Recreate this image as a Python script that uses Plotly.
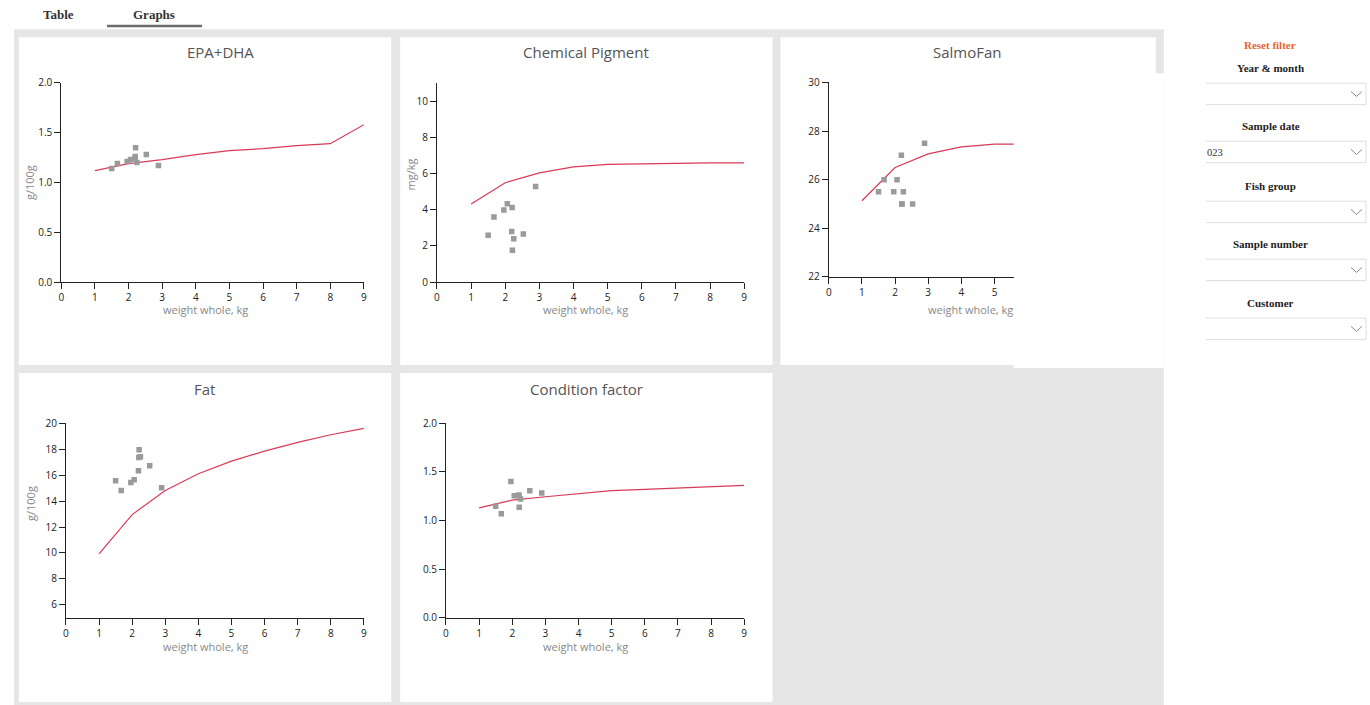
import plotly.graph_objects as go

# ---------------- data ----------------
WEIGHT_CURVE = [1, 2, 3, 4, 5, 6, 7, 8, 9]
FISH_WEIGHT = [1.50, 1.67, 1.96, 2.06, 2.19, 2.20, 2.21, 2.25, 2.53, 2.89]

EPA_DHA_CURVE = [1.12, 1.19, 1.23, 1.28, 1.32, 1.34, 1.37, 1.39, 1.58]
EPA_DHA_FISH = [1.14, 1.19, 1.21, 1.23, 1.24, 1.26, 1.35, 1.20, 1.28, 1.17]

PIGMENT_CURVE = [4.32, 5.50, 6.05, 6.38, 6.52, 6.56, 6.60, 6.60, 6.60]
PIGMENT_FISH = [2.60, 3.60, 3.99, 4.34, 2.80, 4.13, 1.77, 2.40, 2.66, 5.30]

SALMOFAN_CURVE = [25.13, 26.50, 27.06, 27.35, 27.46, 27.50, 27.50, 27.50, 27.50]
SALMOFAN_FISH = [25.5, 26.0, 25.5, 26.0, 27.0, 25.0, 25.0, 25.5, 25.0, 27.5]

FAT_CURVE = [9.92, 12.96, 14.82, 16.11, 17.09, 17.86, 18.53, 19.12, 19.61]
FAT_FISH = [15.57, 14.82, 15.44, 15.64, 16.34, 17.37, 17.96, 17.42, 16.73, 15.03]

CF_CURVE = [1.13, 1.21, 1.245, 1.273, 1.307, 1.321, 1.334, 1.345, 1.362]
CF_FISH = [1.146, 1.070, 1.403, 1.256, 1.256, 1.262, 1.136, 1.221, 1.307, 1.283]

TITLES = ["EPA+DHA", "Chemical Pigment", "SalmoFan", "Fat", "Condition factor"]
X_TITLE = "weight whole, kg"
Y_TITLES = ["g/100g", "mg/kg", "", "g/100g", ""]
TABS = ["Table", "Graphs"]
FILTERS = ["Year & month", "Sample date", "Fish group", "Sample number", "Customer"]
RESET_LABEL = "Reset filter"
SAMPLE_DATE_TEXT = "023"

# ---------------- geometry helpers ----------------
# Positions below are measured on the reference picture; they are mapped to
# figure pixels with a small correction for how the page gets photographed.
W, H = 1370, 705
TX_OFF, TX_SCALE = 3.1, 0.9948
TY_OFF, TY_SCALE = 7.8, 0.979


def px(x):
    return ((x - TX_OFF) / TX_SCALE) / W


def py(y):
    return 1 - ((y - TY_OFF) / TY_SCALE) / H


LINE_COLOR = "#d93a55"
DOT_COLOR = "#9a9a9a"
AX_COLOR = "#222222"
FONT = "Open Sans, Noto Sans, sans-serif"
SERIF = "Liberation Serif, Times New Roman, serif"

fig = go.Figure()

panels = [
    dict(xd=(61.3, 363.7), yd=(82.7, 282.0), xr=[0, 9], yr=[0, 2.0],
         yt=dict(tick0=0, dtick=0.5, tickformat=".1f"),
         curve=EPA_DHA_CURVE, fish=EPA_DHA_FISH),
    dict(xd=(436.7, 743.7), yd=(82.7, 282.0), xr=[0, 9], yr=[0, 11.03],
         yt=dict(tick0=0, dtick=2),
         curve=PIGMENT_CURVE, fish=PIGMENT_FISH),
    dict(xd=(828.2, 1013.0), yd=(82.3, 276.7), xr=[0, 5.58], yr=[22, 30],
         yt=dict(tick0=22, dtick=2),
         curve=SALMOFAN_CURVE, fish=SALMOFAN_FISH),
    dict(xd=(66.0, 363.7), yd=(423.3, 617.7), xr=[0, 9], yr=[5, 20],
         yt=dict(tickmode="array", tickvals=[6, 8, 10, 12, 14, 16, 18, 20]),
         curve=FAT_CURVE, fish=FAT_FISH),
    dict(xd=(445.7, 743.7), yd=(423.3, 617.7), xr=[0, 9], yr=[0, 2.0],
         yt=dict(tick0=0, dtick=0.5, tickformat=".1f"),
         curve=CF_CURVE, fish=CF_FISH),
]

axis_common = dict(
    showgrid=False, zeroline=False, showline=True, linecolor=AX_COLOR, linewidth=1,
    ticks="outside", ticklen=6, tickwidth=1, tickcolor=AX_COLOR,
    tickfont=dict(family=FONT, size=10, color=AX_COLOR), fixedrange=True,
)

layout_axes = {}
for i, p in enumerate(panels):
    n = "" if i == 0 else str(i + 1)
    xa = "x" + n
    ya = "y" + n
    fig.add_trace(go.Scatter(
        x=WEIGHT_CURVE, y=p["curve"], mode="lines",
        line=dict(color=LINE_COLOR, width=1.2),
        xaxis=xa, yaxis=ya, showlegend=False, hoverinfo="skip"))
    fig.add_trace(go.Scatter(
        x=FISH_WEIGHT, y=p["fish"], mode="markers",
        marker=dict(symbol="square", size=5.5, color=DOT_COLOR),
        xaxis=xa, yaxis=ya, showlegend=False))
    layout_axes["xaxis" + n] = dict(
        axis_common, domain=[px(p["xd"][0]), px(p["xd"][1])], range=p["xr"],
        tick0=0, dtick=1, anchor=ya)
    layout_axes["yaxis" + n] = dict(
        axis_common, domain=[py(p["yd"][1]), py(p["yd"][0])], range=p["yr"],
        anchor=xa, **p["yt"])

fig.update_layout(**layout_axes)

# ---------------- background blocks ----------------
GRAY = "#e6e6e6"
shapes = []


def rect(x0, y0, x1, y1, fill, layer="below"):
    shapes.append(dict(type="rect", xref="paper", yref="paper",
                       x0=px(x0), x1=px(x1), y0=py(y1), y1=py(y0),
                       fillcolor=fill, line=dict(width=0), layer=layer))


def hline(x0, x1, y, color, width=1, layer="below"):
    shapes.append(dict(type="line", xref="paper", yref="paper",
                       x0=px(x0), x1=px(x1), y0=py(y), y1=py(y),
                       line=dict(color=color, width=width), layer=layer))


def vline(x, y0, y1, color, width=1, layer="below"):
    shapes.append(dict(type="line", xref="paper", yref="paper",
                       x0=px(x), x1=px(x), y0=py(y0), y1=py(y1),
                       line=dict(color=color, width=width), layer=layer))


rect(14, 29, 1163, 720, GRAY)
for (x0, y0, x1, y1) in [(19, 37, 391, 365), (400, 37, 772, 365), (780, 37, 1155, 365),
                         (19, 373, 391, 702), (400, 373, 772, 702)]:
    rect(x0, y0, x1, y1, "white")
rect(1013, 73, 1163, 368, "white")

# header tab underline
rect(107, 24.5, 202, 27, "#6b6b6b")

# sidebar dropdowns
BOX_TOPS = [83, 141, 201, 259, 318]
for t in BOX_TOPS:
    b = t + 21.5
    hline(1205, 1365, t, "#dedede")
    hline(1205, 1365, b, "#dedede")
    vline(1365, t, b, "#dedede")
    c = (t + b) / 2
    shapes.append(dict(type="path", xref="paper", yref="paper",
                       path="M {},{} L {},{} L {},{}".format(
                           px(1350), py(c - 2.5), px(1355.5), py(c + 2.5), px(1361), py(c - 2.5)),
                       line=dict(color="#8a8a8a", width=1), layer="above"))

fig.update_layout(shapes=shapes)

# ---------------- text ----------------
ann = []


def text(x, y, s, size, color, family=FONT, xanchor="center", angle=0):
    ann.append(dict(x=px(x), y=py(y), xref="paper", yref="paper", text=s,
                    showarrow=False, xanchor=xanchor, yanchor="middle",
                    textangle=angle, borderpad=0,
                    font=dict(family=family, size=size, color=color)))


TITLE_POS = [(220, 52), (586, 52), (967, 52), (204, 389), (586, 389)]
for (x, y), s in zip(TITLE_POS, TITLES):
    text(x, y, s, 15, "#555555")

XT_POS = [(205, 309), (585, 309), None, (205, 646), (585, 646)]
for pos in XT_POS:
    if pos:
        text(pos[0], pos[1], X_TITLE, 11, "#888888")
text(1013.5, 309, X_TITLE, 11, "#888888", xanchor="right")

YT_POS = [(29, 182), (410, 174), None, (30, 503), None]
for pos, s in zip(YT_POS, Y_TITLES):
    if pos and s:
        text(pos[0], pos[1], s, 11, "#888888", angle=-90)

# tabs
text(59, 14, "<b>" + TABS[0] + "</b>", 13, "#333333", family=SERIF)
text(154, 14, "<b>" + TABS[1] + "</b>", 13, "#333333", family=SERIF)

# sidebar
text(1269, 45, "<b>" + RESET_LABEL + "</b>", 11, "#e8652f", family=SERIF)
LABEL_Y = [68, 126, 186, 244, 303]
for y, s in zip(LABEL_Y, FILTERS):
    text(1270, y, "<b>" + s + "</b>", 11, "#222222", family=SERIF)
text(1205, 152, SAMPLE_DATE_TEXT, 10.5, "#333333", family=SERIF, xanchor="left")

fig.update_layout(annotations=ann)

fig.update_layout(
    width=W, height=H, autosize=False,
    margin=dict(l=0, r=0, t=0, b=0, pad=0),
    paper_bgcolor="white", plot_bgcolor="white",
    showlegend=False,
    font=dict(family=FONT),
)

fig.write_html("out.html", config={"displayModeBar": False},
               post_script="document.body.style.margin='0';document.body.style.overflow='hidden';")
